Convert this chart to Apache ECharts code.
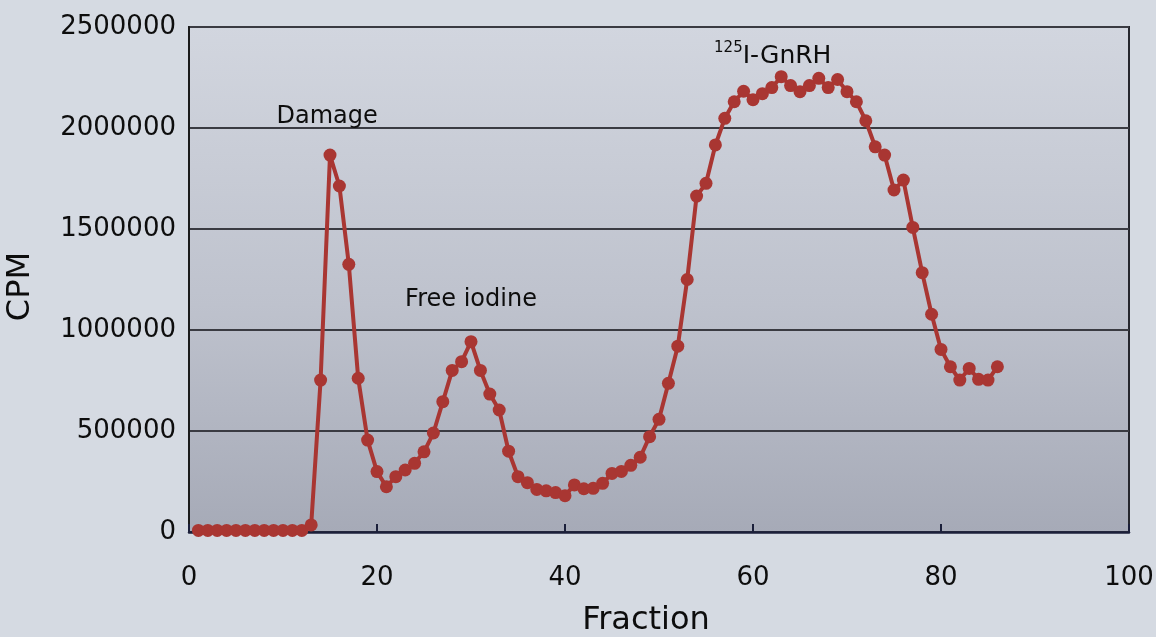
<!DOCTYPE html>
<html>
<head>
<meta charset="utf-8">
<title>CPM vs Fraction</title>
<script src="https://cdn.jsdelivr.net/npm/echarts@6/dist/echarts.min.js"></script>
<style>
  html, body { margin: 0; padding: 0; background: #d5dae2; }
  #chart { width: 1156px; height: 637px; }
</style>
</head>
<body>
<div id="chart"></div>
<script>
// 数据：组分号与计数
var fractions = [1,2,3,4,5,6,7,8,9,10,11,12,13,14,15,16,17,18,19,20,
  21,22,23,24,25,26,27,28,29,30,31,32,33,34,35,36,37,38,39,40,
  41,42,43,44,45,46,47,48,49,50,51,52,53,54,55,56,57,58,59,60,
  61,62,63,64,65,66,67,68,69,70,71,72,73,74,75,76,77,78,79,80,
  81,82,83,84,85,86];
var cpm = [8000,8000,8000,8000,8000,8000,8000,8000,8000,8000,8000,8000,35000,752000,1866000,1713000,1325000,761000,455000,299000,
  224000,274000,307000,340000,397000,490000,645000,800000,843000,942000,800000,683000,604000,400000,274000,244000,211000,204000,195000,180000,
  233000,214000,216000,241000,290000,300000,330000,370000,472000,558000,736000,920000,1250000,1663000,1726000,1916000,2048000,2130000,2182000,2140000,
  2170000,2200000,2254000,2210000,2180000,2210000,2246000,2200000,2240000,2180000,2130000,2036000,1907000,1866000,1693000,1742000,1508000,1284000,1078000,904000,
  818000,752000,810000,756000,752000,818000];
var xTicks = [0, 20, 40, 60, 80, 100];
var yTicks = [0, 500000, 1000000, 1500000, 2000000, 2500000];
// 峰的标注 [文字, 组分, CPM]
var peakNames = ['Damage', 'Free iodine', '{sup|125}{main|I-GnRH}'];
var peakX = [14.7, 30.0, 62.1];
var peakY = [2055000, 1150000, 2355000];

var myChart = echarts.init(document.getElementById('chart'));

var points = [];
for (var i = 0; i < fractions.length; i++) {
  points.push([fractions[i], cpm[i]]);
}

var marks = [];
for (var j = 0; j < peakNames.length; j++) {
  marks.push({ coord: [peakX[j], peakY[j]], value: peakNames[j] });
}

var font = 'DejaVu Sans';

var option = {
  backgroundColor: '#d5dae2',
  animation: false,
  grid: {
    left: 189, right: 27, top: 27, bottom: 105,
    outerBoundsMode: 'none',
    show: true,
    borderColor: '#26272e',
    borderWidth: 2,
    backgroundColor: new echarts.graphic.LinearGradient(0, 0, 0, 1, [
      { offset: 0, color: '#d2d6df' },
      { offset: 0.55, color: '#bec2cd' },
      { offset: 1, color: '#a6aab7' }
    ])
  },
  xAxis: {
    type: 'value',
    min: xTicks[0], max: xTicks[xTicks.length - 1], interval: 20,
    name: 'Fraction',
    nameLocation: 'middle',
    nameGap: 73,
    nameTextStyle: { fontFamily: font, fontSize: 32, color: '#0d0d0d', padding: [0, 26, 0, 0] },
    axisLine: { lineStyle: { color: '#1b1f3a', width: 2.5 } },
    axisTick: { inside: true, length: 8, lineStyle: { color: '#1b1f3a', width: 2 } },
    axisLabel: { fontFamily: font, fontSize: 26, color: '#0d0d0d', margin: 33 },
    splitLine: { show: false }
  },
  yAxis: {
    type: 'value',
    min: yTicks[0], max: yTicks[yTicks.length - 1], interval: 500000,
    name: 'CPM',
    nameLocation: 'middle',
    nameGap: 152,
    nameTextStyle: { fontFamily: font, fontSize: 32, color: '#0d0d0d', padding: [0, 14, 0, 0] },
    axisLine: { show: true, lineStyle: { color: '#1a1a1a', width: 2 } },
    axisTick: { show: false },
    axisLabel: {
      fontFamily: font, fontSize: 26, color: '#0d0d0d', margin: 13,
      formatter: function (v) { return String(v); }
    },
    splitLine: { lineStyle: { color: '#3a3b42', width: 2 } }
  },
  series: [{
    type: 'line',
    data: points,
    clip: false,
    showAllSymbol: true,
    symbol: 'circle',
    symbolSize: 13,
    lineStyle: { color: '#a93632', width: 4 },
    itemStyle: { color: '#a93632' },
    markPoint: {
      symbol: 'circle',
      symbolSize: 1,
      itemStyle: { color: 'rgba(0,0,0,0)' },
      label: {
        show: true,
        position: 'inside',
        color: '#0d0d0d',
        fontFamily: font,
        fontSize: 24,
        formatter: function (p) { return p.value; },
        rich: {
          sup: { fontFamily: font, fontSize: 15, color: '#0d0d0d', verticalAlign: 'top', lineHeight: 32 },
          main: { fontFamily: font, fontSize: 25, color: '#0d0d0d', lineHeight: 32 }
        }
      },
      data: marks
    }
  }]
};

myChart.setOption(option);
</script>
</body>
</html>
